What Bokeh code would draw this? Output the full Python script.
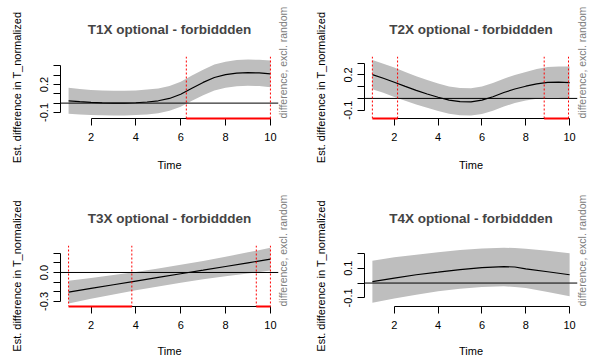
import math
from bokeh.plotting import figure
from bokeh.layouts import column, row
from bokeh.models import Span, FixedTicker, Range1d, LinearAxis
from bokeh.embed import file_html
from bokeh.resources import INLINE

FONT = "Liberation Sans"

titles = ["T1X optional - forbiddden", "T2X optional - forbiddden",
          "T3X optional - forbiddden", "T4X optional - forbiddden"]

x_ticks = [2, 4, 6, 8, 10]

# ---- T1X ----
t1_time = [1, 1.5, 2, 2.5, 3, 3.5, 4, 4.5, 5, 5.5, 6, 6.5, 7, 7.5, 8, 8.5, 9, 9.5, 10]
t1_est = [0.025, 0.015, 0.007, 0.002, 0.0, 0.0, 0.004, 0.012, 0.025, 0.05, 0.095,
          0.16, 0.222, 0.275, 0.305, 0.322, 0.327, 0.324, 0.313]
t1_upper = [0.165, 0.152, 0.142, 0.135, 0.132, 0.132, 0.136, 0.145, 0.158, 0.183, 0.228,
            0.295, 0.359, 0.414, 0.445, 0.462, 0.467, 0.465, 0.456]
t1_lower = [-0.115, -0.122, -0.128, -0.131, -0.132, -0.132, -0.128, -0.121, -0.108, -0.083,
            -0.038, 0.025, 0.085, 0.136, 0.165, 0.182, 0.187, 0.183, 0.170]
t1_signif = [(6.25, 10.0)]
t1_yticks = [-0.1, 0.0, 0.1, 0.2, 0.3, 0.4]
t1_ylabels = ["-0.1", "", "", "0.2", "", ""]

# ---- T2X ----
t2_time = [1, 1.5, 2, 2.5, 3, 3.5, 4, 4.5, 5, 5.5, 6, 6.5, 7, 7.5, 8, 8.5, 9, 9.5, 10]
t2_est = [0.203, 0.172, 0.138, 0.103, 0.069, 0.038, 0.010, -0.014, -0.028, -0.030, -0.015,
          0.014, 0.050, 0.080, 0.104, 0.124, 0.136, 0.138, 0.135]
t2_upper = [0.328, 0.296, 0.263, 0.225, 0.189, 0.156, 0.127, 0.102, 0.088, 0.086, 0.102,
            0.132, 0.168, 0.200, 0.226, 0.251, 0.267, 0.271, 0.272]
t2_lower = [0.078, 0.048, 0.013, -0.019, -0.051, -0.080, -0.107, -0.130, -0.144, -0.146,
            -0.132, -0.104, -0.068, -0.040, -0.018, -0.003, 0.005, 0.005, -0.002]
t2_signif = [(1.0, 2.15), (8.84, 9.95)]
t2_yticks = [-0.1, 0.0, 0.1, 0.2, 0.3]
t2_ylabels = ["-0.1", "", "", "0.2", ""]

# ---- T3X ----
t3_time = [1, 2, 3, 4, 5, 6, 7, 8, 9, 10]
t3_est = [-0.203, -0.165, -0.127, -0.089, -0.051, -0.013, 0.024, 0.062, 0.100, 0.138]
t3_upper = [-0.086, -0.057, -0.027, 0.006, 0.042, 0.080, 0.119, 0.163, 0.208, 0.255]
t3_lower = [-0.320, -0.273, -0.228, -0.184, -0.144, -0.106, -0.071, -0.039, -0.011, 0.021]
t3_signif = [(1.0, 3.82), (9.37, 10.0)]
t3_yticks = [-0.3, -0.2, -0.1, 0.0, 0.1, 0.2]
t3_ylabels = ["-0.3", "", "", "0.0", "", ""]

# ---- T4X ----
t4_time = [1, 2, 3, 4, 5, 6, 7, 7.5, 8, 9, 10]
t4_est = [0.009, 0.033, 0.056, 0.073, 0.091, 0.104, 0.111, 0.108, 0.096, 0.076, 0.056]
t4_upper = [0.151, 0.173, 0.191, 0.207, 0.222, 0.233, 0.238, 0.236, 0.231, 0.218, 0.200]
t4_lower = [-0.133, -0.104, -0.078, -0.056, -0.038, -0.027, -0.022, -0.026, -0.033, -0.060, -0.089]
t4_signif = []
t4_yticks = [-0.1, 0.0, 0.1, 0.2]
t4_ylabels = ["-0.1", "", "0.1", ""]


def panel(title, time, est, upper, lower, signif, yticks, ylabels, yr,
          width, height, mbl, mbr, mbt, mbb, xlab_standoff):
    xr = (0.64, 10.36)
    p = figure(width=width, height=height, x_range=Range1d(*xr), y_range=Range1d(*yr),
               output_backend="svg", toolbar_location=None,
               min_border_left=mbl, min_border_right=mbr,
               min_border_top=mbt, min_border_bottom=mbb,
               title=title, x_axis_label="Time",
               y_axis_label="Est. difference in T_normalized")
    p.outline_line_color = None
    p.grid.visible = False
    p.background_fill_color = "white"
    p.border_fill_color = "white"

    p.title.text_font = FONT
    p.title.text_font_size = "13.5px"
    p.title.text_font_style = "bold"
    p.title.align = "center"
    p.title.standoff = 39

    p.varea(x=time, y1=lower, y2=upper, fill_color="#BEBEBE")
    p.line(time, est, line_color="black", line_width=1.2)
    p.add_layout(Span(location=0, dimension="width", line_color="black", line_width=1))

    for a, b in signif:
        for v in (a, b):
            p.add_layout(Span(location=v, dimension="height", line_color="red",
                              line_width=1, line_dash="2 2"))
    if signif:
        p.segment(x0=[a for a, b in signif], x1=[b for a, b in signif],
                  y0=[yr[0]] * len(signif), y1=[yr[0]] * len(signif),
                  line_color="red", line_width=2, level="overlay")

    xa = p.xaxis[0]
    xa.ticker = FixedTicker(ticks=x_ticks)
    xa.bounds = (x_ticks[0], x_ticks[-1])
    ya = p.yaxis[0]
    ya.ticker = FixedTicker(ticks=yticks)
    ya.bounds = (yticks[0], yticks[-1])
    ya.major_label_overrides = {t: l for t, l in zip(yticks, ylabels)}
    ya.major_label_orientation = "vertical"
    for ax in (xa, ya):
        ax.major_tick_out = 7
        ax.major_tick_in = 0
        ax.minor_tick_line_color = None
        ax.axis_line_color = "black"
        ax.major_tick_line_color = "black"
        ax.major_label_text_font = FONT
        ax.major_label_text_font_size = "11px"
        ax.major_label_text_color = "black"
        ax.axis_label_text_font = FONT
        ax.axis_label_text_font_size = "11px"
        ax.axis_label_text_font_style = "normal"
        ax.axis_label_text_color = "black"
    xa.axis_label_standoff = xlab_standoff
    ya.axis_label_standoff = 15
    xa.major_label_standoff = 7
    ya.major_label_standoff = 5

    ra = LinearAxis(ticker=FixedTicker(ticks=[]), axis_label="difference, excl. random",
                    axis_line_color=None, major_tick_line_color=None,
                    minor_tick_line_color=None, major_label_text_font_size="0px",
                    major_tick_out=0, major_tick_in=0, major_label_standoff=0,
                    axis_label_standoff=4, axis_label_text_color="#808080",
                    axis_label_text_font=FONT, axis_label_text_font_size="10.5px",
                    axis_label_text_font_style="normal")
    props = ra.properties()
    if "axis_label_orientation" in props:
        ra.axis_label_orientation = math.pi / 2
    if "axis_label_align" in props:
        ra.axis_label_align = "start"
    p.add_layout(ra, "right")
    return p


p1 = panel(titles[0], t1_time, t1_est, t1_upper, t1_lower, t1_signif, t1_yticks, t1_ylabels,
           (-0.165, 0.50), 300, 188, 60, 22, 56, 70, 15)
p2 = panel(titles[1], t2_time, t2_est, t2_upper, t2_lower, t2_signif, t2_yticks, t2_ylabels,
           (-0.171, 0.357), 296, 188, 64, 17, 56, 70, 15)
p3 = panel(titles[2], t3_time, t3_est, t3_upper, t3_lower, t3_signif, t3_yticks, t3_ylabels,
           (-0.352, 0.279), 300, 172, 60, 22, 57, 54, 13)
p4 = panel(titles[3], t4_time, t4_est, t4_upper, t4_lower, t4_signif, t4_yticks, t4_ylabels,
           (-0.158, 0.253), 296, 172, 64, 17, 57, 54, 13)

layout = column(row(p1, p2), row(p3, p4))
open("out.html", "w").write(file_html(layout, INLINE))
